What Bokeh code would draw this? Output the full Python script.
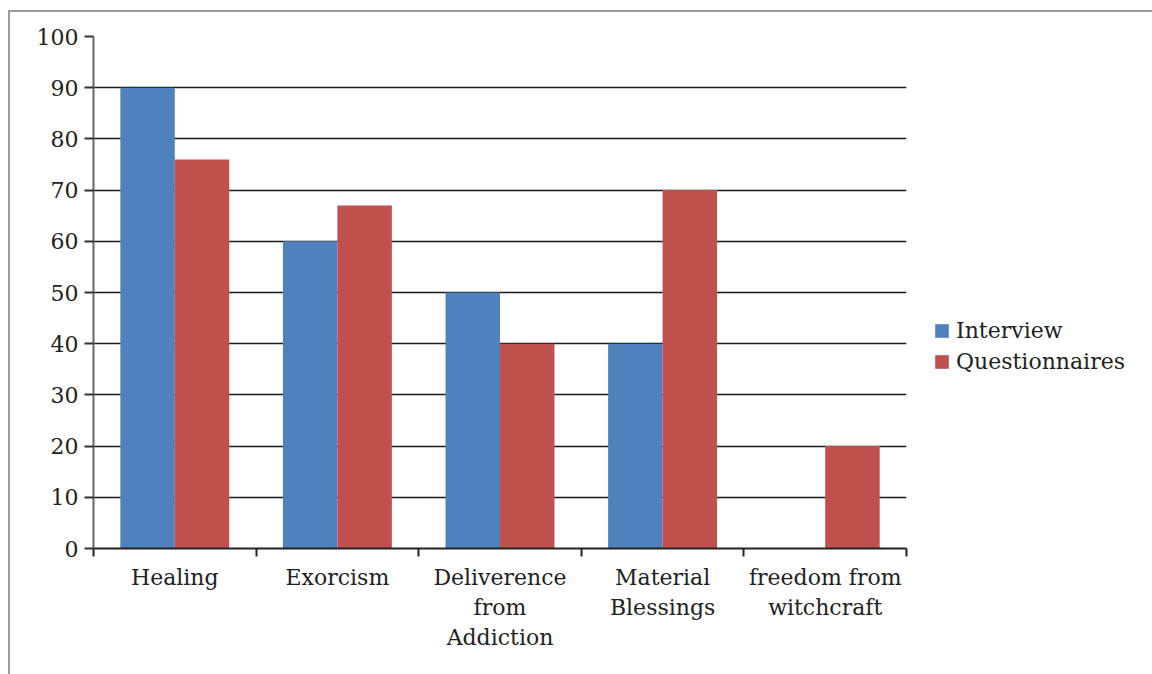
import numpy as np
from bokeh.plotting import figure
from bokeh.models import (Range1d, FixedTicker, ColumnDataSource, Legend, LegendItem)
from bokeh.embed import file_html
from bokeh.resources import INLINE

categories = ["Healing", "Exorcism", "Deliverence\nfrom\nAddiction", "Material\nBlessings", "freedom from\nwitchcraft"]
interview = [90, 60, 50, 40, 0]
questionnaires = [76, 67, 40, 70, 20]
y_ticks = [0, 10, 20, 30, 40, 50, 60, 70, 80, 90, 100]

FONT = "DejaVu Serif"
FS = "22px"
BLUE = "#4F81BD"
RED = "#C0504D"

n = len(categories)
idx = np.arange(n)
bw = 0.335

src = ColumnDataSource(dict(
    x_int=idx + 0.5 - bw / 2,
    x_q=idx + 0.5 + bw / 2,
    interview=interview,
    questionnaires=questionnaires,
))

p = figure(width=1142, height=662, output_backend="svg", toolbar_location=None,
           x_range=Range1d(0, n), y_range=Range1d(0, 100),
           frame_width=813, frame_height=512,
           min_border_left=83, min_border_top=24, min_border_bottom=126, min_border_right=10)
p.margin = (10, 0, 0, 8)
p.styles = {"border-left": "2px solid #9a9a9a", "border-top": "2px solid #9a9a9a"}
p.outline_line_color = None
p.background_fill_color = "white"
p.border_fill_color = "white"

r1 = p.vbar(x="x_int", top="interview", bottom=0, width=bw, source=src,
            fill_color=BLUE, line_color=None)
r2 = p.vbar(x="x_q", top="questionnaires", bottom=0, width=bw, source=src,
            fill_color=RED, line_color=None)

# x axis: labels at centers, tick marks at boundaries
xa = p.xaxis[0]
xa.ticker = FixedTicker(ticks=list(idx + 0.5), minor_ticks=list(range(n + 1)))
xa.major_label_overrides = {float(i + 0.5): c for i, c in enumerate(categories)}
xa.major_tick_out = 0
xa.major_tick_in = 0
xa.minor_tick_out = 8
xa.minor_tick_in = 0
xa.minor_tick_line_color = "#222222"
xa.minor_tick_line_width = 2
xa.axis_line_color = "#222222"
xa.axis_line_width = 2
xa.major_label_text_font = FONT
xa.major_label_text_font_size = FS
xa.major_label_text_color = "#222222"
xa.major_label_standoff = 8

ya = p.yaxis[0]
ya.ticker = FixedTicker(ticks=y_ticks)
ya.major_tick_out = 9
ya.major_tick_in = 0
ya.minor_tick_out = 0
ya.minor_tick_in = 0
ya.major_tick_line_color = "#333333"
ya.major_tick_line_width = 2
ya.axis_line_color = "#666666"
ya.axis_line_width = 2
ya.major_label_text_font = FONT
ya.major_label_text_font_size = FS
ya.major_label_text_color = "#222222"
ya.major_label_standoff = 6

p.xgrid.grid_line_color = None
p.ygrid.ticker = FixedTicker(ticks=y_ticks)
p.ygrid.grid_line_color = "#1a1a1a"
p.ygrid.grid_line_width = 1.6
p.ygrid.level = "underlay"

legend = Legend(items=[LegendItem(label="Interview", renderers=[r1]),
                       LegendItem(label="Questionnaires", renderers=[r2])],
                location=(27, 174))
legend.border_line_color = None
legend.background_fill_alpha = 0
legend.label_text_font = FONT
legend.label_text_font_size = FS
legend.label_text_color = "#222222"
legend.glyph_width = 17
legend.glyph_height = 17
legend.label_standoff = 6
legend.label_height = 26
legend.spacing = 5
legend.padding = 0
legend.margin = 0
p.add_layout(legend, "right")

open("out.html", "w").write(file_html(p, INLINE))
